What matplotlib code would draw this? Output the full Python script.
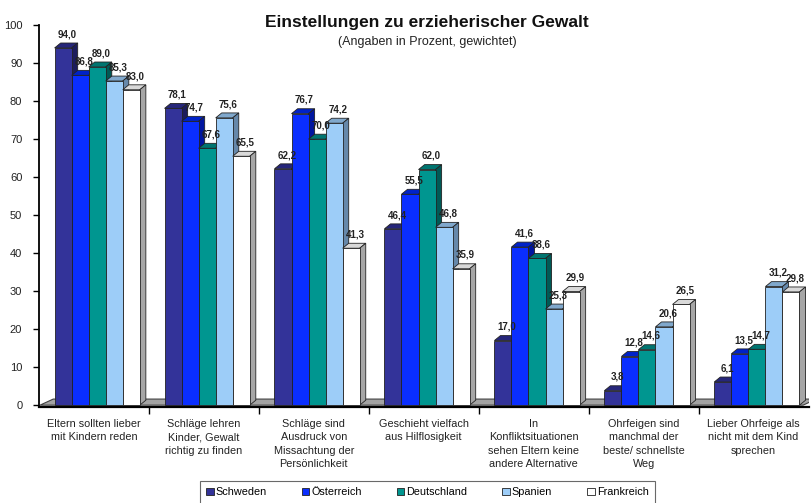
"""Einstellungen zu erzieherischer Gewalt - pseudo-3D grouped bar chart."""

import matplotlib.pyplot as plt
from matplotlib.patches import Polygon
from matplotlib.ticker import FixedLocator

plt.rcParams["font.family"] = ["Liberation Sans", "DejaVu Sans"]

CATEGORIES = [
    "Eltern sollten lieber\nmit Kindern reden",
    "Schläge lehren\nKinder, Gewalt\nrichtig zu finden",
    "Schläge sind\nAusdruck von\nMissachtung der\nPersönlichkeit",
    "Geschieht vielfach\naus Hilflosigkeit",
    "In\nKonfliktsituationen\nsehen Eltern keine\nandere Alternative",
    "Ohrfeigen sind\nmanchmal der\nbeste/ schnellste\nWeg",
    "Lieber Ohrfeige als\nnicht mit dem Kind\nsprechen",
]
COUNTRIES = ["Schweden", "Österreich", "Deutschland", "Spanien", "Frankreich"]

schweden = [94.0, 78.1, 62.2, 46.4, 17.0, 3.8, 6.1]
oesterreich = [86.8, 74.7, 76.7, 55.5, 41.6, 12.8, 13.5]
deutschland = [89.0, 67.6, 70.0, 62.0, 38.6, 14.6, 14.7]
spanien = [85.3, 75.6, 74.2, 46.8, 25.3, 20.6, 31.2]
frankreich = [83.0, 65.5, 41.3, 35.9, 29.9, 26.5, 29.8]
SERIES = [schweden, oesterreich, deutschland, spanien, frankreich]

# front, top, side colours per country
FACE = ["#333399", "#0a2eff", "#009690", "#9dcdf8", "#ffffff"]
TOP = ["#26267a", "#0022c8", "#007570", "#80a8cc", "#d9d9d9"]
SIDE = ["#1c1c5c", "#0016a0", "#005a56", "#6688aa", "#a6a6a6"]

BAR_W = 0.155
SHIFT = 0.03
DX = 0.055   # depth in x (data units)
DY = 1.3     # depth in y (data units)


def fmt(v: float) -> str:
    return f"{v:.1f}".replace(".", ",")


fig = plt.figure(figsize=(8.11, 5.03), dpi=100)
ax = fig.add_axes([0.048, 0.190, 0.949, 0.760])
ax.set_xlim(-0.5, 6.5)
ax.set_ylim(-0.6, 100)

# floor
floor = Polygon(
    [(-0.49, 0), (6.45, 0), (6.45 + 0.12, 1.6), (-0.49 + 0.12, 1.6)],
    closed=True, facecolor="#a3a3a3", edgecolor="#404040", linewidth=0.8, zorder=1,
)
ax.add_patch(floor)

xs = list(range(len(CATEGORIES)))
for j, (vals, name) in enumerate(zip(SERIES, COUNTRIES)):
    pos = [x + SHIFT + (j - 2) * BAR_W for x in xs]
    ax.bar(pos, vals, width=BAR_W, color=FACE[j], edgecolor="#222222",
           linewidth=0.6, zorder=3 + j * 0.1, label=name)
    for p, v in zip(pos, vals):
        x0, x1 = p - BAR_W / 2, p + BAR_W / 2
        top = Polygon([(x0, v), (x1, v), (x1 + DX, v + DY), (x0 + DX, v + DY)],
                      closed=True, facecolor=TOP[j], edgecolor="#222222",
                      linewidth=0.6, zorder=2.9 + j * 0.1)
        side = Polygon([(x1, 0), (x1 + DX, DY), (x1 + DX, v + DY), (x1, v)],
                       closed=True, facecolor=SIDE[j], edgecolor="#222222",
                       linewidth=0.6, zorder=2.9 + j * 0.1)
        ax.add_patch(top)
        ax.add_patch(side)
        ax.text(p + DX / 2 + 0.01, v + DY + 1.0, fmt(v), ha="center", va="bottom",
                fontsize=7, fontweight="bold", color="#222222", zorder=6)

ax.set_yticks(range(0, 101, 10))
ax.tick_params(axis="y", labelsize=8, length=4, width=1, color="black",
               labelcolor="#222222", pad=8)
ax.set_xticks(xs)
ax.set_xticklabels(CATEGORIES, fontsize=7.8, linespacing=1.45, color="#222222")
ax.tick_params(axis="x", length=0, pad=8)
ax.xaxis.set_minor_locator(FixedLocator([0.5 + k for k in range(6)]))
ax.tick_params(axis="x", which="minor", length=5, width=1, color="black")

for s in ("top", "right"):
    ax.spines[s].set_visible(False)
ax.spines["left"].set_linewidth(1.3)
ax.spines["bottom"].set_linewidth(1.6)

fig.text(0.526, 0.955, "Einstellungen zu erzieherischer Gewalt", ha="center",
         va="center", fontsize=12.5, fontweight="bold", color="#111111")
fig.text(0.527, 0.917, "(Angaben in Prozent, gewichtet)", ha="center",
         va="center", fontsize=9, color="#222222")

leg = fig.legend(loc="lower center", bbox_to_anchor=(0.527, -0.012), ncol=5,
                 fontsize=7.8, frameon=True, fancybox=False, edgecolor="#444444",
                 handlelength=0.7, handleheight=0.7, handletextpad=0.2,
                 columnspacing=3.2, borderpad=0.6)
leg.get_frame().set_linewidth(0.8)

fig.savefig("out.png", dpi=100)
